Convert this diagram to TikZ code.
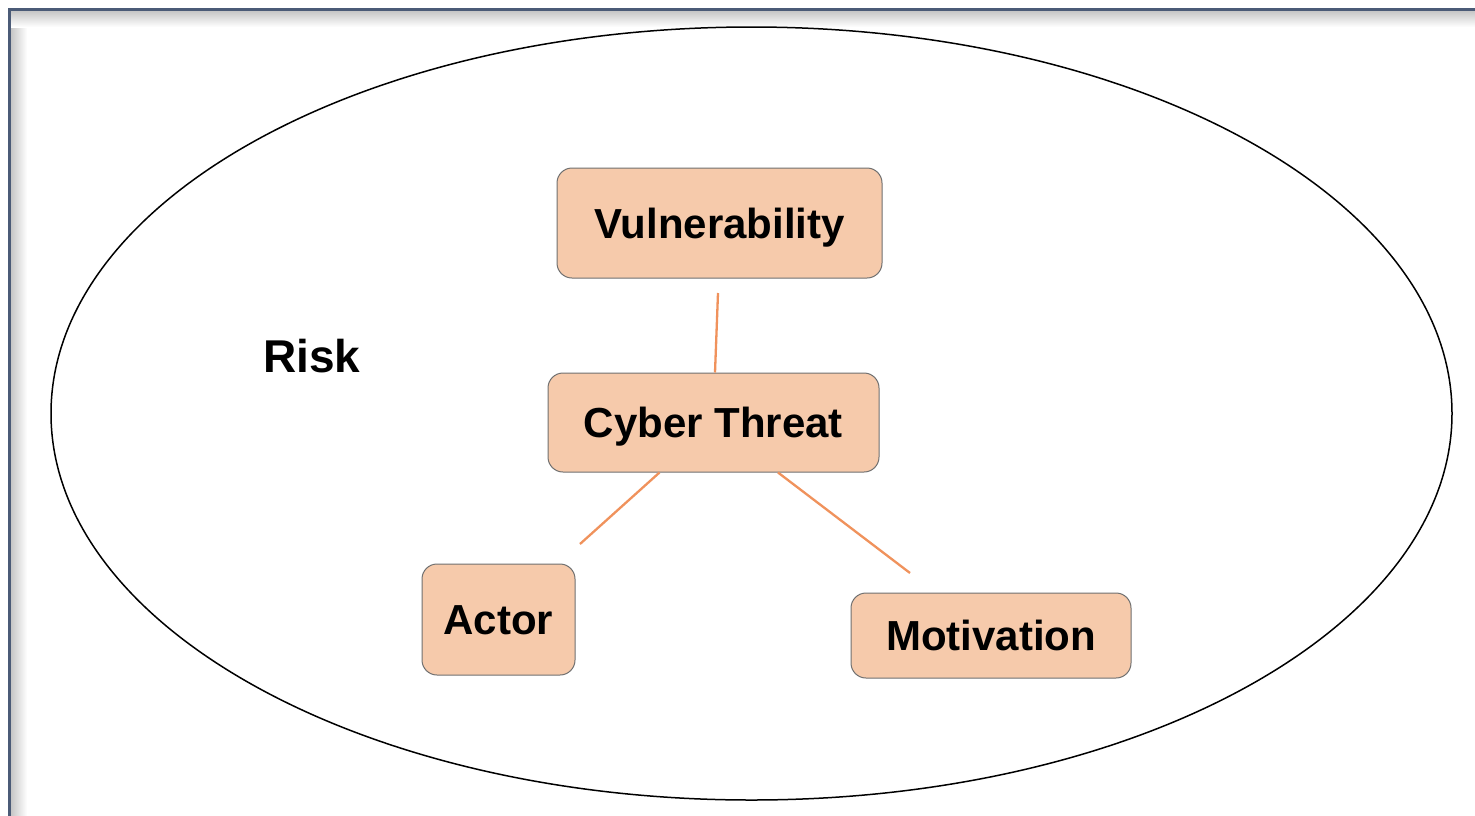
\documentclass[tikz,border=0pt]{standalone}
\usepackage{fontspec}
\setmainfont{Liberation Sans}
\begin{document}
\begin{tikzpicture}[x=1pt,y=-1pt,
  box/.style={draw=boxline, fill=boxfill, line width=1pt, rounded corners=15pt,
    font=\fontsize{42}{48}\selectfont\bfseries, text=black, inner sep=0pt,
    text height=30pt, text depth=0pt},
  link/.style={draw=linkcol, line width=2.3pt}]
\definecolor{framecol}{HTML}{4B5B77}
\definecolor{boxfill}{HTML}{F6CAAB}
\definecolor{boxline}{HTML}{707070}
\definecolor{linkcol}{HTML}{F0925C}
\useasboundingbox (0,0) rectangle (1475,815);
% window frame with inner shadow
\fill[white] (0,0) rectangle (1475,815);
\shade[left color=black!22, right color=white] (11,11) rectangle (27,815);
\shade[top color=black!22, bottom color=white] (11,11) rectangle (1475,27);
\draw[framecol, line width=3pt] (9.5,820) -- (9.5,9.5) -- (1480,9.5);
% risk ellipse
\draw[line width=1.5pt] (751.5,413.5) ellipse [x radius=700.5, y radius=386.5];
\node[font=\fontsize{46}{52}\selectfont\bfseries] (risk) at (312,356) {Risk};
% factor boxes
\node[box, minimum width=325pt, minimum height=110pt] (vul) at (719.5,223) {Vulnerability};
\node[box, minimum width=331pt, minimum height=99pt] (cyber) at (713.5,422.5) {Cyber Threat};
\node[box, minimum width=153pt, minimum height=111pt] (actor) at (498.5,619.5) {Actor};
\node[box, minimum width=280pt, minimum height=85pt] (motiv) at (991,635.5) {Motivation};
% connectors with free ends
\coordinate (vend) at (718,293);
\coordinate (aend) at (580,544);
\coordinate (mend) at (910,573);
\draw[link] (vend) -- ([xshift=1.5pt]cyber.north);
\draw[link] ([xshift=-54pt]cyber.south) -- (aend);
\draw[link] ([xshift=64.5pt]cyber.south) -- (mend);
\end{tikzpicture}
\end{document}
